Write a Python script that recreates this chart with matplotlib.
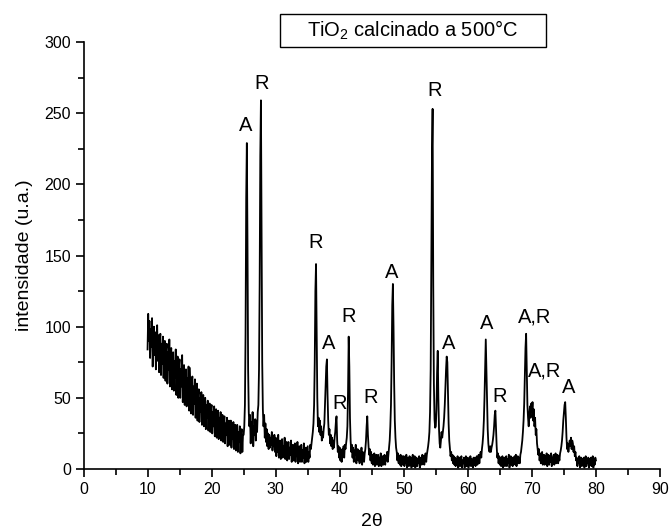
import numpy as np
import matplotlib
matplotlib.use("Agg")
import matplotlib.pyplot as plt
from matplotlib.ticker import MultipleLocator
from matplotlib.patches import Rectangle

plt.rcParams['font.family'] = ['Liberation Sans', 'DejaVu Sans']
plt.rcParams['mathtext.fontset'] = 'custom'
plt.rcParams['mathtext.rm'] = 'Liberation Sans'
plt.rcParams['mathtext.it'] = 'Liberation Sans:italic'

# 2-theta grid start/step (degrees) and intensity, 0.1 deg steps
theta_start = 10.0
theta_step = 0.1

i_10_15 = [84, 109, 90, 104, 78, 98, 86, 106, 72, 95,
           100, 80, 96, 70, 92, 101, 76, 94, 68, 90,
           95, 66, 88, 74, 93, 64, 86, 90, 62, 84,
           88, 60, 82, 70, 91, 58, 80, 85, 56, 78,
           82, 55, 76, 64, 84, 52, 74, 79, 50, 72]
i_15_20 = [77, 50, 70, 58, 80, 47, 68, 73, 45, 66,
           70, 44, 64, 52, 72, 41, 71, 56, 39, 62,
           65, 38, 58, 46, 63, 36, 55, 60, 34, 52,
           56, 33, 50, 40, 54, 31, 48, 52, 30, 46,
           50, 28, 45, 36, 48, 27, 43, 46, 26, 42]
i_20_25 = [45, 25, 40, 30, 44, 23, 38, 42, 22, 37,
           41, 21, 36, 27, 40, 20, 34, 38, 19, 33,
           37, 18, 32, 24, 36, 16, 30, 34, 17, 29,
           34, 15, 29, 21, 33, 14, 27, 31, 13, 26,
           31, 12, 26, 19, 30, 11, 25, 28, 12, 24]
i_25_30 = [24, 30, 45, 95, 190, 229, 160, 70, 40, 30,
           38, 18, 33, 22, 40, 16, 30, 24, 35, 20,
           34, 26, 40, 45, 70, 130, 220, 259, 160, 75,
           42, 30, 38, 22, 32, 19, 28, 16, 25, 14,
           24, 15, 22, 17, 26, 13, 21, 16, 24, 12]
i_30_35 = [22, 9, 18, 12, 24, 8, 17, 20, 7, 15,
           21, 8, 16, 11, 22, 7, 15, 19, 6, 14,
           19, 7, 15, 10, 20, 5, 14, 17, 6, 13,
           18, 5, 14, 9, 19, 4, 13, 16, 5, 12,
           17, 5, 13, 8, 18, 4, 12, 15, 5, 11]
i_35_40 = [16, 5, 12, 8, 17, 14, 18, 22, 26, 32,
           45, 75, 125, 144, 95, 50, 30, 36, 26, 34,
           24, 30, 20, 26, 22, 28, 32, 45, 58, 72,
           77, 52, 34, 24, 28, 18, 24, 16, 22, 14,
           20, 15, 22, 26, 33, 37, 20, 12, 16, 8]
i_40_45 = [15, 6, 13, 5, 14, 10, 16, 8, 17, 14,
           18, 22, 30, 55, 93, 72, 36, 20, 12, 17,
           8, 15, 5, 13, 10, 17, 4, 12, 14, 6,
           13, 4, 11, 9, 15, 3, 12, 10, 5, 11,
           14, 20, 30, 37, 24, 16, 10, 14, 6, 12]
i_45_50 = [4, 10, 3, 9, 11, 2, 8, 10, 3, 9,
           10, 2, 8, 5, 11, 2, 7, 9, 3, 8,
           10, 3, 9, 6, 12, 5, 10, 15, 20, 30,
           45, 75, 115, 130, 100, 60, 34, 22, 15, 12,
           6, 11, 4, 9, 3, 10, 2, 8, 9, 3]
i_50_55 = [9, 2, 7, 4, 10, 1, 8, 6, 2, 9,
           3, 8, 1, 7, 10, 2, 6, 9, 1, 7,
           8, 2, 7, 4, 9, 1, 6, 8, 3, 10,
           4, 9, 3, 8, 11, 5, 10, 13, 16, 20,
           26, 40, 70, 140, 220, 253, 130, 60, 35, 29]
i_55_60 = [30, 42, 68, 83, 50, 28, 18, 15, 20, 26,
           22, 26, 30, 36, 45, 58, 70, 79, 75, 52,
           32, 20, 14, 9, 12, 6, 10, 4, 9, 3,
           8, 2, 7, 5, 9, 1, 6, 8, 2, 7,
           9, 1, 6, 4, 8, 1, 7, 9, 2, 6]
i_60_65 = [8, 1, 6, 3, 9, 2, 7, 5, 1, 8,
           3, 8, 2, 7, 9, 3, 8, 10, 4, 9,
           12, 8, 14, 18, 24, 34, 50, 72, 91, 70,
           48, 28, 18, 13, 12, 16, 12, 15, 17, 20,
           24, 30, 38, 41, 28, 16, 8, 11, 4, 9]
i_65_70 = [3, 8, 2, 7, 9, 1, 6, 8, 2, 7,
           9, 2, 7, 4, 10, 1, 6, 9, 3, 8,
           2, 8, 4, 9, 3, 10, 2, 7, 9, 4,
           8, 4, 10, 12, 16, 20, 26, 34, 46, 65,
           85, 95, 70, 45, 36, 30, 38, 44, 36, 46]
i_70_75 = [40, 47, 34, 42, 30, 36, 24, 28, 18, 14,
           10, 14, 6, 11, 4, 9, 12, 3, 8, 10,
           3, 9, 5, 11, 2, 8, 10, 3, 9, 5,
           11, 2, 8, 6, 10, 3, 9, 11, 4, 8,
           10, 4, 9, 6, 11, 13, 16, 20, 26, 34]
i_75_80 = [40, 45, 47, 36, 22, 14, 18, 12, 16, 20,
           16, 22, 14, 20, 18, 12, 16, 9, 12, 6,
           8, 2, 7, 4, 9, 1, 6, 8, 2, 7,
           3, 8, 1, 6, 9, 2, 7, 4, 8, 1,
           7, 3, 8, 2, 6, 9, 1, 7, 3, 8,
           6]

intensity = np.array(i_10_15 + i_15_20 + i_20_25 + i_25_30 + i_30_35 + i_35_40 +
                     i_40_45 + i_45_50 + i_50_55 + i_55_60 + i_60_65 + i_65_70 +
                     i_70_75 + i_75_80, dtype=float)
two_theta = theta_start + theta_step * np.arange(len(intensity))

# Peak annotations (phase letter, 2theta, intensity of label)
peak_labels = ["A", "R", "R", "A", "R", "R", "R", "A", "R", "A", "A", "R", "A,R", "A,R", "A"]
label_x = [25.3, 27.8, 36.3, 38.3, 40.0, 41.4, 44.9, 48.1, 54.8, 57.0, 62.9, 64.9, 70.4, 72.0, 75.8]
label_y = [241, 271, 159, 88, 46, 107, 50, 138, 266, 88, 102, 51, 107, 69, 57]

title_text = "TiO$_2$ calcinado a 500°C"
x_label = "2θ"
y_label = "intensidade (u.a.)"

fig = plt.figure(figsize=(6.7, 5.29), dpi=100)
ax = fig.add_axes([83.5 / 670, 60 / 529, 576.5 / 670, 427 / 529])
ax.plot(two_theta, intensity, color='black', linewidth=1.3)

for t, x, y in zip(peak_labels, label_x, label_y):
    ax.text(x, y, t, ha='center', va='center', fontsize=14.5)

ax.set_xlim(0, 90)
ax.set_ylim(0, 300)
ax.xaxis.set_major_locator(MultipleLocator(10))
ax.xaxis.set_minor_locator(MultipleLocator(5))
ax.yaxis.set_major_locator(MultipleLocator(50))
ax.yaxis.set_minor_locator(MultipleLocator(25))
ax.tick_params(which='major', direction='out', length=6, width=1.2, labelsize=11.5, pad=3)
ax.tick_params(which='minor', direction='out', length=4, width=1.2)
for s in ('left', 'bottom'):
    ax.spines[s].set_linewidth(1.2)
ax.spines['top'].set_visible(False)
ax.spines['right'].set_visible(False)
ax.set_xlabel(x_label, fontsize=14, labelpad=12)
ax.set_ylabel(y_label, fontsize=14, labelpad=8)

fig.patches.append(Rectangle((280 / 670, 1 - 47 / 529), 266 / 670, 33 / 529,
                             transform=fig.transFigure, facecolor='white',
                             edgecolor='black', linewidth=1))
fig.text(413 / 670, 1 - 30.5 / 529, title_text, ha='center', va='center', fontsize=14.5)

fig.savefig("out.png", dpi=100)
